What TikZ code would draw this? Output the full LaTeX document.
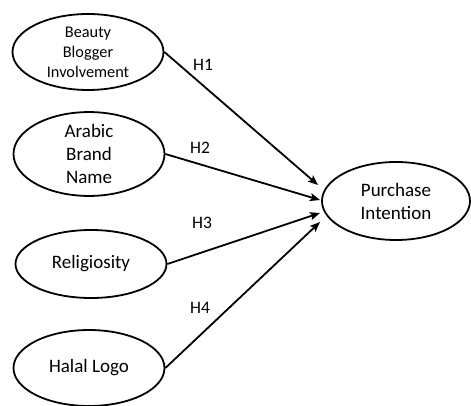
\documentclass[tikz,border=0pt]{standalone}
\usepackage{fontspec}
\setmainfont{Carlito}
\usetikzlibrary{arrows.meta,shapes.geometric}
\begin{document}
\begin{tikzpicture}[x=1pt,y=-1pt,
  var/.style={draw, line width=1.8pt, ellipse, inner sep=0pt, align=center,
    minimum width=151pt, minimum height=76pt, font=\fontsize{19}{23}\selectfont},
  link/.style={line width=1.8pt, -{Stealth[length=10pt,width=8pt,inset=2pt]}},
  hlab/.style={font=\fontsize{17.5}{20}\selectfont, inner sep=0pt}]
\useasboundingbox (0,0) rectangle (471,406);
\node[var, font=\fontsize{16.3}{20}\selectfont] (bb) at (88,52) {Beauty\\Blogger\\Involvement};
\node[var] (ab) at (89,154) {Arabic\\Brand\\Name};
\node[var, minimum height=68pt] (re) at (91,264) {Religiosity};
\node[var] (hl) at (89,368) {Halal Logo};
\node[var, minimum width=148pt, minimum height=78pt] (pi) at (396,201) {Purchase\\Intention};
\coordinate (t1) at (318,185);
\coordinate (t2) at (320,200);
\coordinate (t3) at (320,213);
\coordinate (t4) at (320,222);
\draw[link] (bb.east) -- (t1);
\draw[link] (ab.east) -- (t2);
\draw[link] (re.east) -- (t3);
\draw[link] (hl.east) -- (t4);
\node[hlab] (h1) at (203,65) {H1};
\node[hlab] (h2) at (200,148) {H2};
\node[hlab] (h3) at (202,223) {H3};
\node[hlab] (h4) at (200,308) {H4};
\end{tikzpicture}
\end{document}
